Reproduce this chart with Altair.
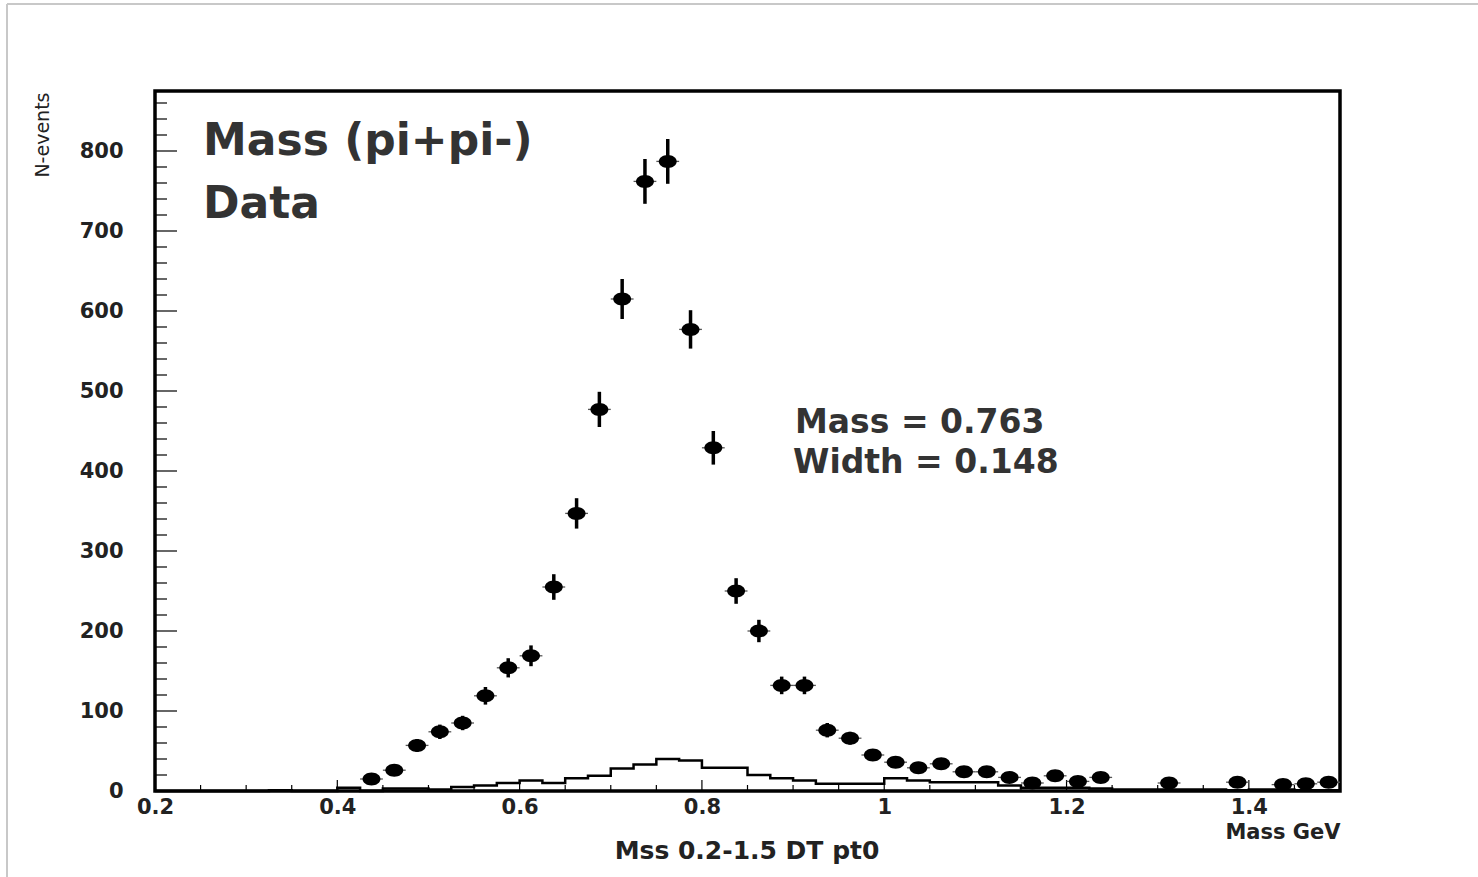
import altair as alt
import pandas as pd

# ---- data ----
data_mass = [0.4375, 0.4625, 0.4875, 0.5125, 0.5375, 0.5625, 0.5875, 0.6125,
             0.6375, 0.6625, 0.6875, 0.7125, 0.7375, 0.7625, 0.7875, 0.8125,
             0.8375, 0.8625, 0.8875, 0.9125, 0.9375, 0.9625, 0.9875, 1.0125,
             1.0375, 1.0625, 1.0875, 1.1125, 1.1375, 1.1625, 1.1875, 1.2125,
             1.2375, 1.3125, 1.3875, 1.4375, 1.4625, 1.4875]
data_counts = [15, 26, 57, 74, 85, 119, 154, 169, 255, 347, 477, 615, 762, 787,
               577, 429, 250, 200, 132, 132, 76, 66, 45, 36, 29, 34, 24, 24,
               17, 10, 19, 12, 17, 10, 11, 8, 9, 11]
data_errors = [4, 5, 8, 9, 9, 11, 12, 13, 16, 19, 22, 25, 28, 28, 24, 21, 16,
               14, 11, 11, 9, 8, 7, 6, 5, 6, 5, 5, 4, 3, 4, 3, 4, 3, 3, 3, 3, 3]

mc_edges = [0.2, 0.225, 0.25, 0.275, 0.3, 0.325, 0.35, 0.375, 0.4, 0.425,
            0.45, 0.475, 0.5, 0.525, 0.55, 0.575, 0.6, 0.625, 0.65, 0.675,
            0.7, 0.725, 0.75, 0.775, 0.8, 0.825, 0.85, 0.875, 0.9, 0.925,
            0.95, 0.975, 1.0, 1.025, 1.05, 1.075, 1.1, 1.125, 1.15, 1.175,
            1.2, 1.225, 1.25, 1.275, 1.3, 1.325, 1.35, 1.375, 1.4, 1.425,
            1.45, 1.475, 1.5]
mc_counts = [0, 0, 0, 0, 0, 1, 0, 0, 4, 0, 3, 3, 2, 5, 7, 10, 13, 10, 16, 19,
             28, 33, 40, 38, 29, 29, 20, 16, 13, 9, 9, 9, 16, 13, 11, 11, 11,
             7, 4, 4, 4, 3, 2, 2, 2, 2, 2, 1, 2, 2, 1, 1]

x_major = [0.2, 0.4, 0.6, 0.8, 1.0, 1.2, 1.4]
x_minor = [0.25, 0.3, 0.35, 0.45, 0.5, 0.55, 0.65, 0.7, 0.75, 0.85, 0.9, 0.95,
           1.05, 1.1, 1.15, 1.25, 1.3, 1.35, 1.45]
y_major = [0, 100, 200, 300, 400, 500, 600, 700, 800]
y_minor = [20, 40, 60, 80, 120, 140, 160, 180, 220, 240, 260, 280, 320, 340,
           360, 380, 420, 440, 460, 480, 520, 540, 560, 580, 620, 640, 660,
           680, 720, 740, 760, 780, 820, 840, 860]

W, H = 1185, 700
FONT = "DejaVu Sans"

half_bin = 0.0125
pts = pd.DataFrame({
    "m": data_mass,
    "n": data_counts,
    "lo": [c - e for c, e in zip(data_counts, data_errors)],
    "hi": [c + e for c, e in zip(data_counts, data_errors)],
    "ml": [m - half_bin for m in data_mass],
    "mr": [m + half_bin for m in data_mass],
})
hist = pd.DataFrame({"m": mc_edges, "n": mc_counts + [mc_counts[-1]]})

xs = alt.Scale(domain=[0.2, 1.5], nice=False, zero=False)
ys = alt.Scale(domain=[0, 875], nice=False, zero=False)

base_x_axis = alt.Axis(values=x_major, format="~g", ticks=False, domain=False,
                       grid=False, labelPadding=5, labelFontSize=21,
                       labelFlush=False, labelOverlap=False,
                       labelFont=FONT, labelFontWeight="bold", labelColor="#222",
                       title="Mass GeV", titleFont=FONT, titleFontSize=21,
                       titleFontWeight="bold", titleColor="#222",
                       titleAnchor="end", titleAlign="right", titleX=W,
                       titleY=41, titleBaseline="middle")
base_y_axis = alt.Axis(values=y_major, format="d", ticks=False, domain=False,
                       grid=False, labelPadding=32, labelFontSize=21,
                       labelFlush=False, labelOverlap=False,
                       labelFont=FONT, labelFontWeight="bold", labelColor="#222",
                       title="N-events", titleFont=FONT, titleFontSize=19,
                       titleFontWeight="normal", titleColor="#222",
                       titleAngle=-90, titleAlign="right", titleBaseline="middle",
                       titleX=-113, titleY=1)

histo = alt.Chart(hist).mark_line(interpolate="step-after", color="black",
                                   strokeWidth=2.5).encode(
    x=alt.X("m:Q", scale=xs, axis=base_x_axis),
    y=alt.Y("n:Q", scale=ys, axis=base_y_axis),
)

xerr = alt.Chart(pts).mark_rule(color="#555", strokeWidth=1.3).encode(
    x=alt.X("ml:Q", scale=xs), x2="mr:Q", y=alt.Y("n:Q", scale=ys))
yerr = alt.Chart(pts).mark_rule(color="black", strokeWidth=3.5).encode(
    x=alt.X("m:Q", scale=xs), y=alt.Y("lo:Q", scale=ys), y2="hi:Q")
ellipse = "M -1.38 0 A 1.38 1 0 1 0 1.38 0 A 1.38 1 0 1 0 -1.38 0 Z"
dots = alt.Chart(pts).mark_point(shape=ellipse, filled=True, color="black",
                                 size=169, opacity=1).encode(
    x=alt.X("m:Q", scale=xs), y=alt.Y("n:Q", scale=ys))

# inside ticks
def yticks(vals, length):
    return alt.Chart(pd.DataFrame({"v": vals})).mark_rule(
        color="black", strokeWidth=1.2).encode(
        y=alt.Y("v:Q", scale=ys), x=alt.value(0), x2=alt.value(length))

def xticks(vals, length):
    return alt.Chart(pd.DataFrame({"v": vals})).mark_rule(
        color="black", strokeWidth=1.2).encode(
        x=alt.X("v:Q", scale=xs), y=alt.value(H), y2=alt.value(H - length))

# annotations
def label(txt, x, y, size, align="left", weight="bold", color="#333"):
    return alt.Chart(pd.DataFrame({"t": [txt]})).mark_text(
        align=align, baseline="middle", font=FONT, fontSize=size,
        fontWeight=weight, color=color).encode(
        text="t:N", x=alt.value(x), y=alt.value(y))

texts = [
    label("Mass (pi+pi-)", 48, 51, 44),
    label("Data", 48, 114, 44),
    label("Mass = 0.763", 640, 332, 33),
    label("Width = 0.148", 638, 372, 33),
    label("Mss 0.2-1.5 DT pt0", 592, 760, 25, align="center", color="#222"),
]

# outer light frame
frame_left = alt.Chart(pd.DataFrame({"a": [0]})).mark_rule(
    color="#c8c8c8", strokeWidth=2).encode(
    x=alt.value(-148), y=alt.value(-87), y2=alt.value(H + 86))
frame_top = alt.Chart(pd.DataFrame({"a": [0]})).mark_rule(
    color="#c8c8c8", strokeWidth=2).encode(
    y=alt.value(-87), x=alt.value(-148), x2=alt.value(W + 138))

chart = alt.layer(
    frame_left, frame_top,
    histo,
    yticks(y_major, 22), yticks(y_minor, 12),
    xticks(x_major, 11), xticks(x_minor, 6),
    xerr, yerr, dots,
    *texts,
).properties(
    width=W, height=H,
    autosize=alt.AutoSizeParams(type="none"),
    padding={"left": 155, "top": 91, "right": 138, "bottom": 86},
    background="white",
).configure_view(stroke="black", strokeWidth=3.5)

chart.save("out.html", embed_options={"renderer": "svg", "actions": False})
